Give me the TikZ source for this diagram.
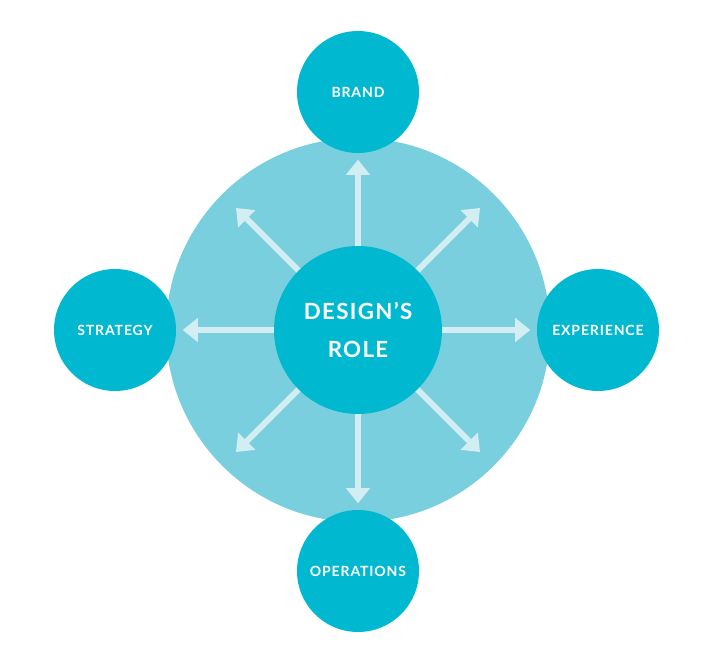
\documentclass[tikz,border=0pt]{standalone}
\usepackage{fontspec}
\setmainfont{Lato}
\newfontfamily\hubfont[LetterSpace=6.0]{Lato Bold}
\usetikzlibrary{arrows.meta, positioning}
\definecolor{rolecyan}{HTML}{00B9D1}
\definecolor{rolesky}{HTML}{7ACFDF}
\definecolor{rolepale}{HTML}{D3EEF3}

\begin{document}
\begin{tikzpicture}[
  x=0.03cm, y=-0.03cm,
  every node/.style={text=white},
  hub/.style={circle, fill=rolecyan, minimum size=122*0.03cm, inner sep=0pt,
              font=\hubfont\fontsize{12}{14}\selectfont},
  core/.style={circle, fill=rolecyan, minimum size=168*0.03cm, inner sep=0pt,
               align=center, font=\hubfont\fontsize{19}{32}\selectfont},
  ray/.style={-{Triangle[width=20pt, length=13pt]}, line width=5pt,
              color=rolepale}
]
\useasboundingbox (0,0) rectangle (717,649);

% backdrop disc
\fill[rolesky] (358,330) circle[radius=192];

% outer topics
\node[hub] (brand) at (358,92) {BRAND};
\node[hub] (strategy) at (115,330) {STRATEGY};
\node[hub] (experience) at (598,330) {EXPERIENCE};
\node[hub] (operations) at (358,571) {OPERATIONS};

% diagonal arrow ends
\coordinate (nw) at (236,208);
\coordinate (ne) at (480,208);
\coordinate (sw) at (236,452);
\coordinate (se) at (480,452);

\coordinate (mid) at (358,330);
\foreach \t in {brand, strategy, experience, operations}
  \draw[ray, shorten >=5.5pt] (mid) -- (\t);
\foreach \t in {nw, ne, sw, se}
  \draw[ray] (mid) -- (\t);

\node[core] (role) at (mid) {DESIGN’S\\ROLE};

\end{tikzpicture}
\end{document}
